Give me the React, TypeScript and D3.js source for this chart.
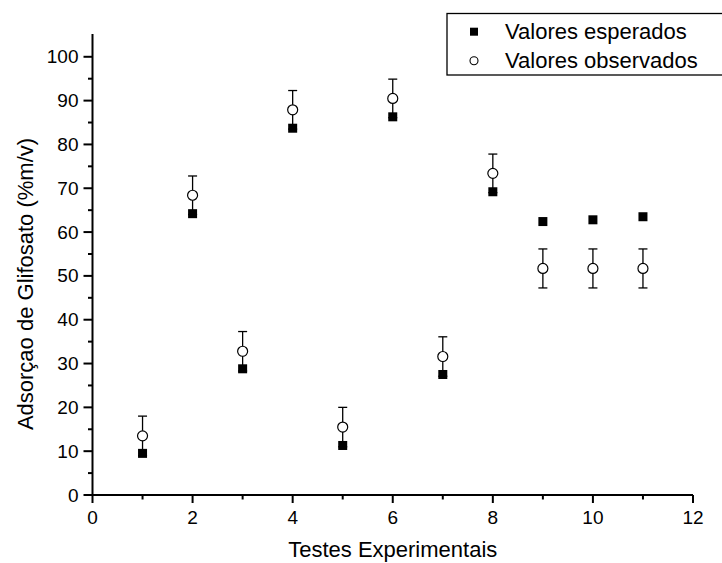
import React from "react";
import * as d3 from "d3";

const tests = [1, 2, 3, 4, 5, 6, 7, 8, 9, 10, 11];
const expected = [9.5, 64.2, 28.8, 83.7, 11.3, 86.3, 27.5, 69.2, 62.4, 62.8, 63.5];
const observed = [13.5, 68.4, 32.8, 87.9, 15.5, 90.5, 31.6, 73.4, 51.7, 51.7, 51.7];
const observedErr = [4.5, 4.4, 4.5, 4.4, 4.5, 4.4, 4.5, 4.4, 4.45, 4.45, 4.45];
const xMajorTicks = [0, 2, 4, 6, 8, 10, 12];
const xMinorTicks = [1, 3, 5, 7, 9, 11];
const yMajorTicks = [0, 10, 20, 30, 40, 50, 60, 70, 80, 90, 100];
const yMinorTicks = [5, 15, 25, 35, 45, 55, 65, 75, 85, 95];
const legendLabels = ["Valores esperados", "Valores observados"];
const xTitle = "Testes Experimentais";
const yTitle = "Adsorçao de Glifosato (%m/v)";

const W = 722;
const H = 563;
const FONT = "'Liberation Sans', Arial, sans-serif";

export default function App() {
  const x = d3.scaleLinear().domain([0, 12]).range([92.5, 693]);
  const y = d3.scaleLinear().domain([0, 105.2]).range([495, 34]);
  const sq = 9;
  const r = 5;
  const cap = 4.5;

  return (
    <svg
      width={W}
      height={H}
      style={{ position: "absolute", left: 0, top: 0, background: "#fff" }}
      fontFamily={FONT}
    >
      <rect x={0} y={0} width={W} height={H} fill="#fff" />
      {/* axes */}
      <line x1={x(0)} x2={x(12)} y1={y(0)} y2={y(0)} stroke="#000" strokeWidth={2} />
      <line x1={x(0)} x2={x(0)} y1={y(0)} y2={y(105.2)} stroke="#000" strokeWidth={2} />
      {xMajorTicks.map((t) => (
        <g key={"xM" + t}>
          <line x1={x(t)} x2={x(t)} y1={y(0)} y2={y(0) + 8} stroke="#000" strokeWidth={2} />
          <text x={x(t)} y={y(0) + 29} textAnchor="middle" fontSize={19} fill="#000">
            {t}
          </text>
        </g>
      ))}
      {xMinorTicks.map((t) => (
        <line key={"xm" + t} x1={x(t)} x2={x(t)} y1={y(0)} y2={y(0) + 4.5} stroke="#000" strokeWidth={2} />
      ))}
      {yMajorTicks.map((t) => (
        <g key={"yM" + t}>
          <line x1={x(0) - 9} x2={x(0)} y1={y(t)} y2={y(t)} stroke="#000" strokeWidth={2} />
          <text x={x(0) - 14} y={y(t) + 6.5} textAnchor="end" fontSize={19} fill="#000">
            {t}
          </text>
        </g>
      ))}
      {yMinorTicks.map((t) => (
        <line key={"ym" + t} x1={x(0) - 4.5} x2={x(0)} y1={y(t)} y2={y(t)} stroke="#000" strokeWidth={2} />
      ))}
      {/* titles */}
      <text x={(x(0) + x(12)) / 2} y={557} textAnchor="middle" fontSize={22} fill="#000">
        {xTitle}
      </text>
      <text
        transform={`translate(33,284) rotate(-90)`}
        textAnchor="middle"
        fontSize={22}
        fill="#000"
      >
        {yTitle}
      </text>
      {/* error bars */}
      {tests.map((t, i) => (
        <g key={"e" + t} stroke="#000" strokeWidth={1.3}>
          <line x1={x(t)} x2={x(t)} y1={y(observed[i] - observedErr[i])} y2={y(observed[i] + observedErr[i])} />
          <line x1={x(t) - cap} x2={x(t) + cap} y1={y(observed[i] + observedErr[i])} y2={y(observed[i] + observedErr[i])} />
          <line x1={x(t) - cap} x2={x(t) + cap} y1={y(observed[i] - observedErr[i])} y2={y(observed[i] - observedErr[i])} />
        </g>
      ))}
      {/* observed circles */}
      {tests.map((t, i) => (
        <circle key={"o" + t} cx={x(t)} cy={y(observed[i])} r={r} fill="#fff" stroke="#000" strokeWidth={1.2} />
      ))}
      {/* expected squares */}
      {tests.map((t, i) => (
        <rect key={"s" + t} x={x(t) - sq / 2} y={y(expected[i]) - sq / 2} width={sq} height={sq} fill="#000" />
      ))}
      {/* legend */}
      <rect x={447} y={13.5} width={280} height={61.5} fill="#fff" stroke="#000" strokeWidth={1.3} />
      <rect x={474 - 4} y={31.7 - 4} width={8} height={8} fill="#000" />
      <circle cx={474} cy={60.7} r={4} fill="#fff" stroke="#000" strokeWidth={1.1} />
      <text x={505} y={31.7 + 7.5} fontSize={22} fill="#000">
        {legendLabels[0]}
      </text>
      <text x={505} y={60.7 + 7.5} fontSize={22} fill="#000">
        {legendLabels[1]}
      </text>
    </svg>
  );
}
